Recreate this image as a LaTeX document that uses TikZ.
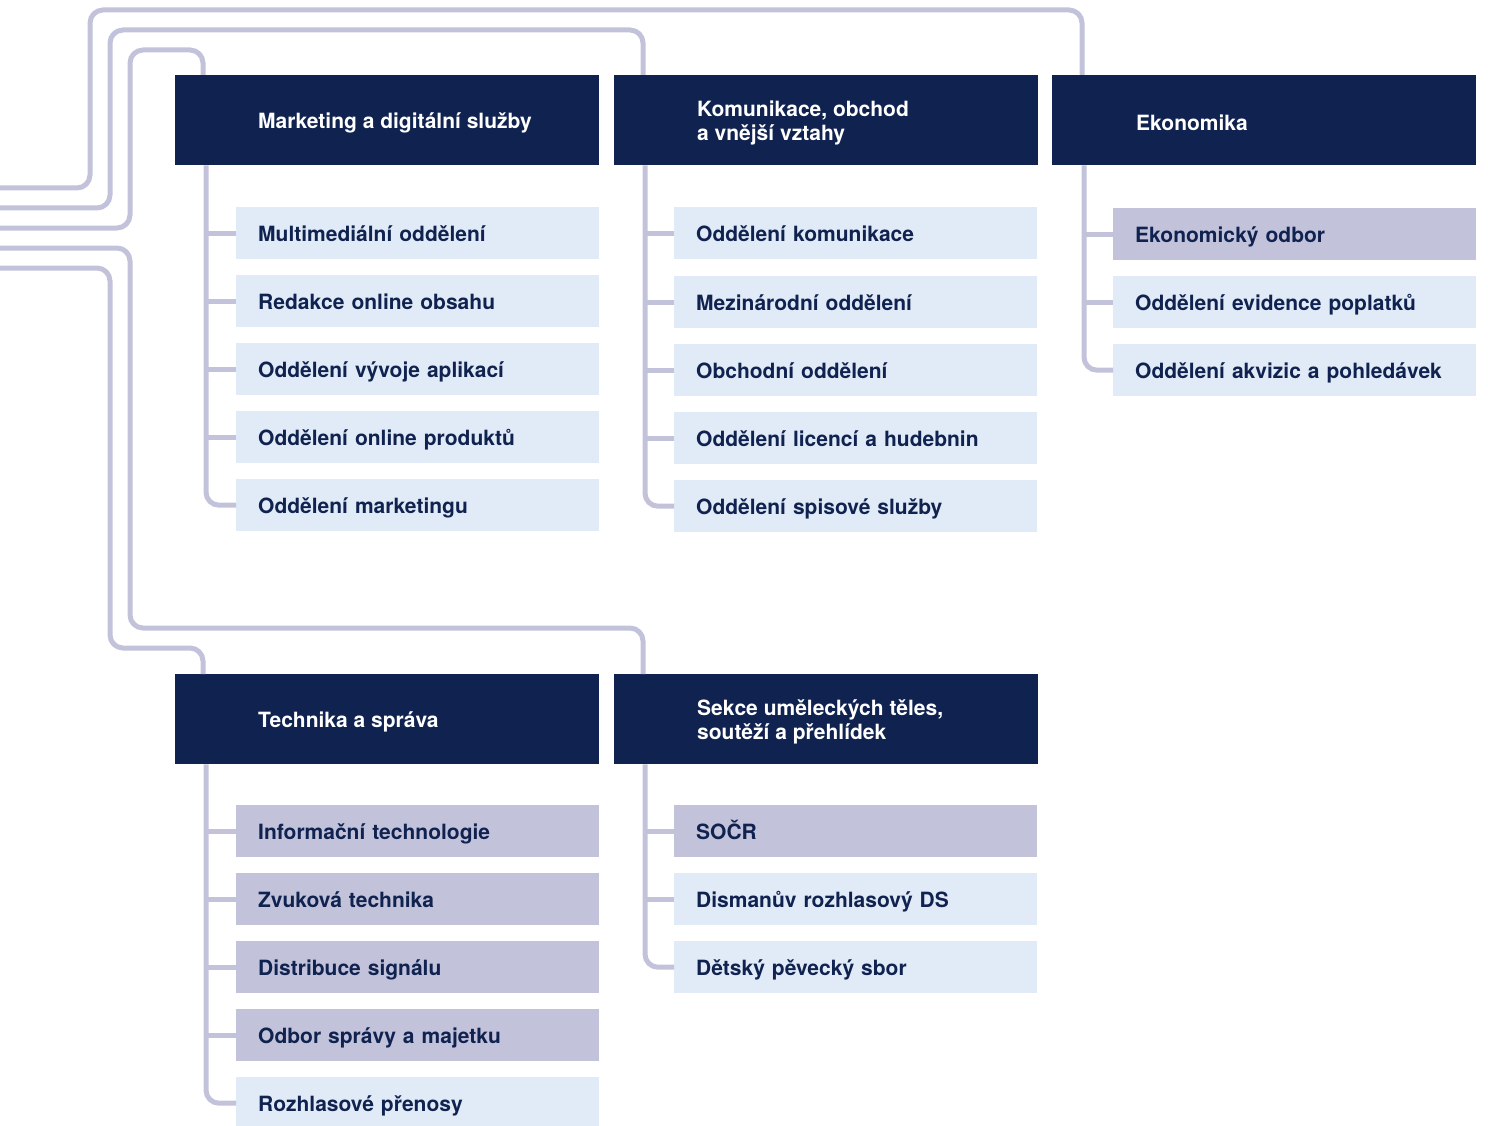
\documentclass[tikz,border=0pt]{standalone}
\usepackage{fontspec}
\setmainfont{TeX Gyre Heros}
\usetikzlibrary{positioning}

\definecolor{navy}{HTML}{10224F}
\definecolor{lilac}{HTML}{C2C3DA}
\definecolor{pale}{HTML}{E1EBF7}

\tikzset{
  head/.style={fill=navy, minimum width=424, minimum height=90, inner sep=0, anchor=north west},
  headtxt/.style={anchor=west, yshift=-3, text=white, align=left, inner sep=0, font=\bfseries\fontsize{21}{24}\selectfont},
  unit/.style={fill=pale, text=navy, minimum height=52, text width=319, text height=16, text depth=0,
    inner xsep=22, inner ysep=0, align=left, anchor=north west, font=\bfseries\fontsize{21}{24}\selectfont},
  unitdark/.style={unit, fill=lilac},
  conn/.style={draw=lilac, line width=5, rounded corners=13},
}

\begin{document}
\begin{tikzpicture}[x=1pt, y=-1pt]
    \useasboundingbox (0,0) rectangle (1488,1126);

    % Hlavicky sekci
    \node[head] (mk) at (175,75) {};
    \node[headtxt] (mkt) at ([xshift=83]mk.west) {Marketing a digitální služby};
    \node[head] (ko) at (614,75) {};
    \node[headtxt] (kot) at ([xshift=83]ko.west) {Komunikace, obchod\\a vnější vztahy};
    \node[head] (ek) at (1052,75) {};
    \node[headtxt] (ekt) at ([xshift=84]ek.west) {Ekonomika};
    \node[head] (te) at (175,674) {};
    \node[headtxt] (tet) at ([xshift=83]te.west) {Technika a správa};
    \node[head] (se) at (614,674) {};
    \node[headtxt] (set) at ([xshift=83]se.west) {Sekce uměleckých těles,\\soutěží a přehlídek};

    % Oddeleni - marketing
    \node[unit] (mk1) at (236,207) {Multimediální oddělení};
    \node[unit] (mk2) at (236,275) {Redakce online obsahu};
    \node[unit] (mk3) at (236,343) {Oddělení vývoje aplikací};
    \node[unit] (mk4) at (236,411) {Oddělení online produktů};
    \node[unit] (mk5) at (236,479) {Oddělení marketingu};

    % Oddeleni - komunikace
    \node[unit] (ko1) at (674,207) {Oddělení komunikace};
    \node[unit] (ko2) at (674,276) {Mezinárodní oddělení};
    \node[unit] (ko3) at (674,344) {Obchodní oddělení};
    \node[unit] (ko4) at (674,412) {Oddělení licencí a hudebnin};
    \node[unit] (ko5) at (674,480) {Oddělení spisové služby};

    % Oddeleni - ekonomika
    \node[unitdark] (ek1) at (1113,208) {Ekonomický odbor};
    \node[unit] (ek2) at (1113,276) {Oddělení evidence poplatků};
    \node[unit] (ek3) at (1113,344) {Oddělení akvizic a pohledávek};

    % Oddeleni - technika
    \node[unitdark] (te1) at (236,805) {Informační technologie};
    \node[unitdark] (te2) at (236,873) {Zvuková technika};
    \node[unitdark] (te3) at (236,941) {Distribuce signálu};
    \node[unitdark] (te4) at (236,1009) {Odbor správy a majetku};
    \node[unit] (te5) at (236,1077) {Rozhlasové přenosy};

    % Oddeleni - sekce
    \node[unitdark] (se1) at (674,805) {SOČR};
    \node[unit] (se2) at (674,873) {Dismanův rozhlasový DS};
    \node[unit] (se3) at (674,941) {Dětský pěvecký sbor};

    % Vedeni zleva
    \coordinate (in1) at (0,188);
    \coordinate (in2) at (0,208);
    \coordinate (in3) at (0,228);
    \coordinate (in4) at (0,248);
    \coordinate (in5) at (0,268);
    \draw[conn] (in1) -| (90,10) -| ([xshift=30]ek.north west);
    \draw[conn] (in2) -| (110,30) -| ([xshift=29]ko.north west);
    \draw[conn] (in3) -| (130,50) -| ([xshift=28]mk.north west);
    \draw[conn] (in4) -| (130,628) -| ([xshift=29]se.north west);
    \draw[conn] (in5) -| (110,648) -| ([xshift=28]te.north west);

    % Paterni linky a odbocky
    \coordinate (mksp) at ([xshift=31]mk.south west);
    \coordinate (kosp) at ([xshift=31]ko.south west);
    \coordinate (eksp) at ([xshift=32]ek.south west);
    \coordinate (tesp) at ([xshift=31]te.south west);
    \coordinate (sesp) at ([xshift=31]se.south west);
    \draw[conn] (mksp) |- (mk5.west);
    \draw[conn] (kosp) |- (ko5.west);
    \draw[conn] (eksp) |- (ek3.west);
    \draw[conn] (tesp) |- (te5.west);
    \draw[conn] (sesp) |- (se3.west);
    \foreach \i in {1,...,4} {
        \draw[conn] (mk\i.west) -- (mk\i.west -| mksp);
        \draw[conn] (ko\i.west) -- (ko\i.west -| kosp);
        \draw[conn] (te\i.west) -- (te\i.west -| tesp);
    }
    \foreach \i in {1,2} {
        \draw[conn] (ek\i.west) -- (ek\i.west -| eksp);
        \draw[conn] (se\i.west) -- (se\i.west -| sesp);
    }
\end{tikzpicture}
\end{document}
